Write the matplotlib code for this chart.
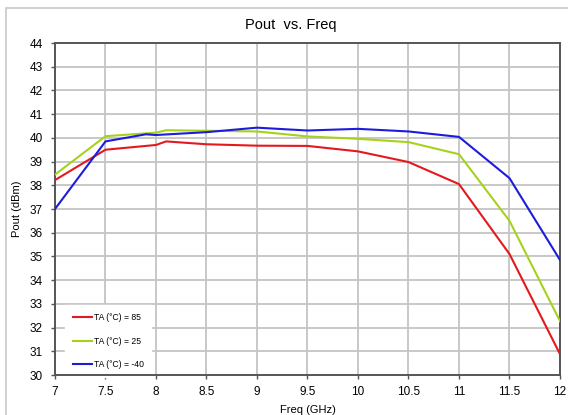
import matplotlib
matplotlib.use("Agg")
import matplotlib.pyplot as plt
from matplotlib.patches import Rectangle

plt.rcParams['font.family'] = ['Liberation Sans', 'DejaVu Sans']

freq_85 = [7, 7.5, 8, 8.1, 8.5, 9, 9.5, 10, 10.5, 11, 11.5, 12]
pout_85 = [38.22, 39.5, 39.7, 39.85, 39.73, 39.67, 39.66, 39.43, 38.98, 38.05, 35.1, 30.88]

freq_25 = [7, 7.5, 8, 8.1, 8.5, 9, 9.5, 10, 10.5, 11, 11.5, 12]
pout_25 = [38.45, 40.07, 40.22, 40.32, 40.3, 40.27, 40.06, 39.96, 39.82, 39.31, 36.5, 32.27]

freq_m40 = [7, 7.5, 7.9, 8, 8.5, 9, 9.5, 10, 10.5, 11, 11.5, 12]
pout_m40 = [37.0, 39.85, 40.15, 40.12, 40.24, 40.43, 40.31, 40.38, 40.27, 40.04, 38.3, 34.85]

labels = ['TA (°C) = 85', 'TA (°C) = 25', 'TA (°C) = -40']
colors = ['#e3191f', '#a6d21c', '#1c1cdc']

fig = plt.figure(figsize=(5.68, 4.15), dpi=100)
ax = fig.add_axes([55 / 568, 1 - 375 / 415, 505 / 568, 332 / 415])

# light outer frame around the whole chart
fig.patches.append(Rectangle((6 / 568, -0.1), 1.2, 1 - 8 / 415 + 0.1,
                             transform=fig.transFigure, fill=False,
                             edgecolor='#c8c8c8', linewidth=1.2, zorder=0))

for f, p, lab, c in zip([freq_85, freq_25, freq_m40],
                        [pout_85, pout_25, pout_m40], labels, colors):
    ax.plot(f, p, color=c, linewidth=1.5, label=lab, zorder=3)

ax.set_xlim(7, 12)
ax.set_ylim(30, 44)
ax.set_xticks([7, 7.5, 8, 8.5, 9, 9.5, 10, 10.5, 11, 11.5, 12])
ax.set_xticklabels(['7', '7.5', '8', '8.5', '9', '9.5', '10', '10.5', '11', '11.5', '12'])
ax.set_yticks(range(30, 45))
ax.grid(True, color='#c4c4c4', linewidth=1.3)
ax.set_axisbelow(True)
for s in ax.spines.values():
    s.set_color('#555555')
    s.set_linewidth(1.4)
ax.tick_params(labelsize=8.5, length=3, width=1, color='#555555')
ax.tick_params(axis='x', pad=5)
ax.tick_params(axis='y', pad=6)

ax.set_title('Pout  vs. Freq', fontsize=10.5, pad=10, x=0.467)
ax.set_xlabel('Freq (GHz)', fontsize=8, labelpad=5)
ax.set_ylabel('Pout (dBm)', fontsize=8, labelpad=5)

leg = ax.legend(loc='lower left', bbox_to_anchor=(0.02, -0.006), fontsize=6.2,
                frameon=True, fancybox=False, handlelength=2.2,
                handletextpad=0.2, labelspacing=1.7, borderpad=0.9,
                borderaxespad=0)
leg.get_frame().set_facecolor('white')
leg.get_frame().set_edgecolor('white')
leg.get_frame().set_alpha(1)
leg.set_zorder(2)  # keep the axis spines drawn on top of the legend box

fig.savefig('out.png', dpi=100)
